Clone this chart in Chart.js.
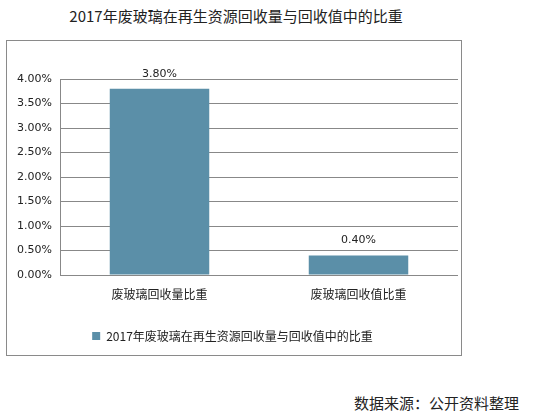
<!DOCTYPE html>
<html>
<head>
<meta charset="utf-8">
<script src="https://cdn.jsdelivr.net/npm/chart.js@4.4.1/dist/chart.umd.min.js"></script>
<style>
  body { margin: 0; width: 552px; height: 419px; background: #fff; position: relative; overflow: hidden; }
  #title { position: absolute; left: 0; width: 472px; top: 6px; text-align: center;
    font: 15px "Noto Sans CJK SC", sans-serif; color: #222; line-height: 20px; }
  #box { position: absolute; left: 6px; top: 40px; width: 454px; height: 314px; border: 1px solid #8a8a8a; }
  #source { position: absolute; right: 33px; top: 393px; font: 15px "Noto Sans CJK SC", sans-serif; color: #222; line-height: 20px; }
</style>
</head>
<body>
<div id="title">2017年废玻璃在再生资源回收量与回收值中的比重</div>
<div id="box"><canvas id="chart" width="454" height="314"></canvas></div>
<div id="source">数据来源：公开资料整理</div>
<script>
// categorias e valores (%)
const categories = ['废玻璃回收量比重', '废玻璃回收值比重'];
const shareValues = [3.8, 0.4];
const seriesName = '2017年废玻璃在再生资源回收量与回收值中的比重';
const yMax = 4;
const yStep = 0.5;

const barColor = '#5b8fa8';
const cjk = '"Noto Sans CJK SC", sans-serif';

// rótulos acima das barras
const valueLabels = {
    id: 'valueLabels',
    afterDatasetsDraw(chart) {
        const ctx = chart.ctx;
        const meta = chart.getDatasetMeta(0);
        ctx.save();
        ctx.font = '11px "DejaVu Sans", sans-serif';
        ctx.fillStyle = '#222';
        ctx.textAlign = 'center';
        ctx.textBaseline = 'middle';
        meta.data.forEach((bar, i) => {
            ctx.fillText(shareValues[i].toFixed(2) + '%', bar.x, bar.y - 15);
        });
        ctx.restore();
    }
};

const ctx = document.getElementById('chart').getContext('2d');
new Chart(ctx, {
    type: 'bar',
    data: {
        labels: categories,
        datasets: [{
            label: seriesName,
            data: shareValues,
            backgroundColor: barColor,
            barPercentage: 0.5,
            categoryPercentage: 1
        }]
    },
    options: {
        responsive: false,
        animation: false,
        layout: { padding: { top: 38, right: 3, bottom: 3, left: 0 } },
        plugins: {
            title: { display: false },
            tooltip: { enabled: false },
            legend: {
                position: 'bottom',
                labels: {
                    boxWidth: 8,
                    boxHeight: 8,
                    padding: 10,
                    color: '#222',
                    font: { family: cjk, size: 12 }
                }
            }
        },
        scales: {
            x: {
                grid: { display: false, drawTicks: false },
                border: { display: false },
                ticks: { color: '#222', padding: 12, font: { family: cjk, size: 12 } },
                afterFit(scale) { scale.height = 45; }
            },
            y: {
                min: 0,
                max: yMax,
                grid: { color: '#888', drawTicks: false },
                border: { display: true, color: '#888' },
                ticks: {
                    stepSize: yStep,
                    padding: 8,
                    color: '#222',
                    font: { family: '"DejaVu Sans", sans-serif', size: 11 },
                    callback: v => v.toFixed(2) + '%'
                },
                afterFit(scale) { scale.width = 53; }
            }
        }
    },
    plugins: [valueLabels]
});
</script>
</body>
</html>
